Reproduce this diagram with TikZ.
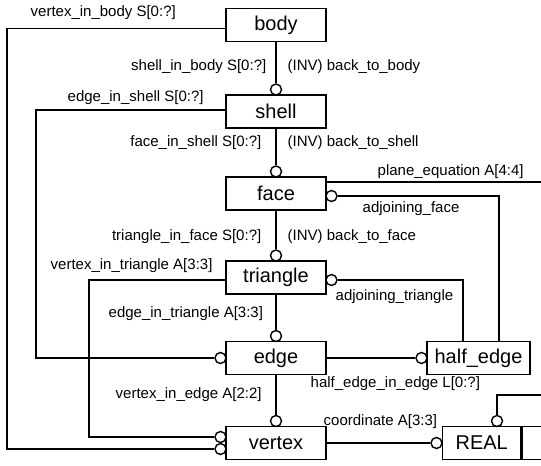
\documentclass[tikz,border=0pt]{standalone}
\usepackage{fontspec}
\setmainfont{Liberation Sans}
\begin{document}
\begin{tikzpicture}[x=1pt,y=-1pt,line width=1.4pt,
  ent/.style={draw,minimum width=100pt,minimum height=33pt,inner sep=0pt,font=\fontsize{20}{24}\selectfont},
  lbl/.style={inner sep=0pt,font=\fontsize{15}{18}\selectfont},
  ring/.style={draw,circle,minimum size=11pt,inner sep=0pt,fill=white}
]
\useasboundingbox (0,0) rectangle (541,466);
\clip (0,0) rectangle (541,466);
% entities
\node[ent] (body) at (276,25) {body};
\node[ent] (shell) at (276,111.5) {shell};
\node[ent] (face) at (276,193.5) {face};
\node[ent] (tri) at (276,277.5) {triangle};
\node[ent] (edge) at (276,358) {edge};
\node[ent] (vertex) at (276,443) {vertex};
\node[ent,minimum width=103pt] (half) at (478.5,358) {half\_edge};
\node[ent,minimum width=78pt,anchor=west] (real) at (442,443) {REAL};
\node[draw,minimum width=40pt,minimum height=33pt,inner sep=0pt,anchor=west] (realx) at (real.east) {};
% rings
\node[ring] (cshell) at (276,89.5) {};
\node[ring] (cface) at (276,171.5) {};
\node[ring] (ctri) at (276,255.5) {};
\node[ring] (cedge) at (276,336) {};
\node[ring] (cvert) at (276,421) {};
\node[ring] (cedgeL) at (220.5,358) {};
\node[ring] (cvertA) at (220.5,437) {};
\node[ring] (cvertB) at (220.5,449) {};
\node[ring] (chalf) at (421.5,358) {};
\node[ring] (creal) at (436.5,443) {};
\node[ring] (crealtop) at (497,421) {};
\node[ring] (caf) at (331.5,196) {};
\node[ring] (cat) at (331.5,280) {};
% corner points
\coordinate (k1) at (7,28.5);
\coordinate (k2) at (36,110);
\coordinate (k3) at (89,280);
\coordinate (k4) at (545,182);
\coordinate (k5) at (545,395);
% connectors
\draw (body.south) -- (cshell.north);
\draw (shell.south) -- (cface.north);
\draw (face.south) -- (ctri.north);
\draw (tri.south) -- (cedge.north);
\draw (edge.south) -- (cvert.north);
\draw (edge.east) -- (chalf.west);
\draw (vertex.east) -- (creal.west);
\draw ([yshift=-3.5pt]body.west) -- (k1) |- (cvertB.west);
\draw ([yshift=1.5pt]shell.west) -- (k2) |- (cedgeL.west);
\draw ([yshift=-2.5pt]tri.west) -- (k3) |- (cvertA.west);
\draw (caf.east) -| ([xshift=20.5pt]half.north);
\draw (cat.east) -| ([xshift=-15.5pt]half.north);
\draw ([yshift=11.5pt]face.east) -- (k4);
\draw (crealtop.north) |- (k5);
% labels
\node[lbl,anchor=west] (l1) at (30,13) {vertex\_in\_body S[0:?]};
\node[lbl,anchor=east] (l2) at (267,67) {shell\_in\_body S[0:?]};
\node[lbl,anchor=west] (l3) at (287,67) {(INV) back\_to\_body};
\node[lbl,anchor=west] (l4) at (67,98) {edge\_in\_shell S[0:?]};
\node[lbl,anchor=east] (l5) at (262,143) {face\_in\_shell S[0:?]};
\node[lbl,anchor=west] (l6) at (287,143) {(INV) back\_to\_shell};
\node[lbl,anchor=west] (l7) at (377,172) {plane\_equation A[4:4]};
\node[lbl,anchor=west] (l8) at (362,209) {adjoining\_face};
\node[lbl,anchor=east] (l9) at (262,237) {triangle\_in\_face S[0:?]};
\node[lbl,anchor=west] (l10) at (287,237) {(INV) back\_to\_face};
\node[lbl,anchor=west] (l11) at (50,266) {vertex\_in\_triangle A[3:3]};
\node[lbl,anchor=west] (l12) at (335,297) {adjoining\_triangle};
\node[lbl,anchor=west] (l13) at (108,314) {edge\_in\_triangle A[3:3]};
\node[lbl,anchor=west] (l14) at (310,384) {half\_edge\_in\_edge L[0:?]};
\node[lbl,anchor=west] (l15) at (115,395) {vertex\_in\_edge A[2:2]};
\node[lbl,anchor=west] (l16) at (323,422) {coordinate A[3:3]};
\end{tikzpicture}
\end{document}
